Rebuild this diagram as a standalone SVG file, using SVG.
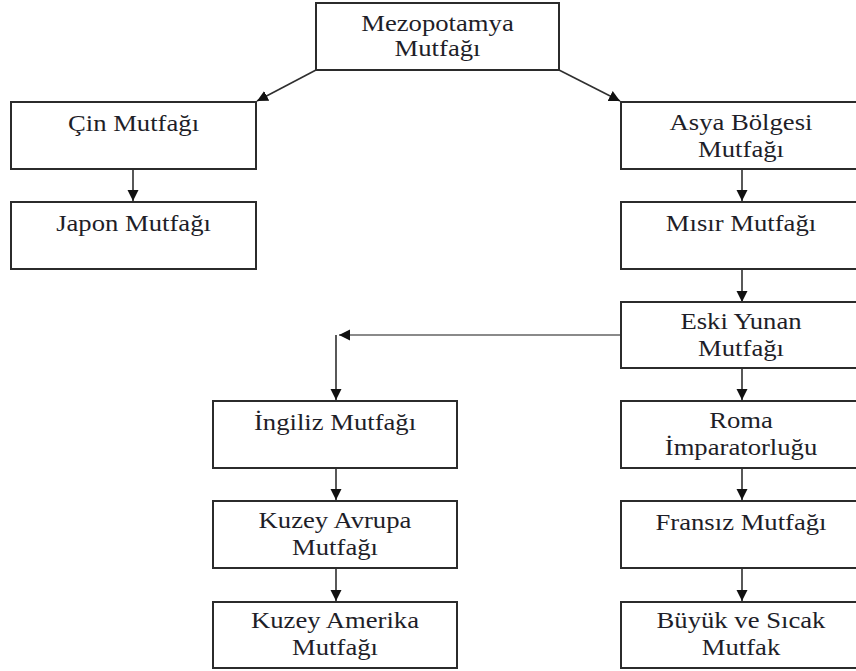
<svg xmlns="http://www.w3.org/2000/svg" width="856" height="671" viewBox="0 0 856 671">
<style>
.box{fill:#fff;stroke:#2b2b2b;stroke-width:2}
.lbl{font-family:"Liberation Serif","Times New Roman",serif;font-size:23px;fill:#1e1e28;text-anchor:middle}
.c{fill:none;stroke:#2f2f2f;stroke-width:1.6}
.cl{fill:none;stroke:#8a8a8a;stroke-width:2}
</style>
<defs>
<marker id="ah" markerUnits="userSpaceOnUse" markerWidth="12" markerHeight="12" refX="11" refY="6" orient="auto">
<path d="M0,0.5 L11,6 L0,11.5 z" fill="#111"/>
</marker>
</defs>
<rect width="856" height="671" fill="#fff"/>
<g id="connectors">
<path class="c" d="M316,70 L257,101" marker-end="url(#ah)"/>
<path class="c" d="M559,70 L620,101" marker-end="url(#ah)"/>
<path class="c" d="M133,169 V201" marker-end="url(#ah)"/>
<path class="c" d="M742,169 V201" marker-end="url(#ah)"/>
<path class="c" d="M742,269 V302" marker-end="url(#ah)"/>
<path class="cl" d="M621,335 H339" marker-end="url(#ah)"/>
<path class="c" d="M336,335 V400" marker-end="url(#ah)"/>
<path class="c" d="M742,368 V400" marker-end="url(#ah)"/>
<path class="c" d="M742,468 V500" marker-end="url(#ah)"/>
<path class="c" d="M742,568 V601" marker-end="url(#ah)"/>
<path class="c" d="M336,468 V500" marker-end="url(#ah)"/>
<path class="c" d="M336,568 V601" marker-end="url(#ah)"/>
</g>
<g id="mezopotamya">
<rect class="box" x="316" y="3" width="243" height="67"/>
<text class="lbl" transform="translate(437.5 31) scale(1.16 1)"><tspan x="0">Mezopotamya</tspan><tspan x="0" dy="25">Mutfağı</tspan></text>
</g>
<g id="cin">
<rect class="box" x="11" y="102" width="245" height="67"/>
<text class="lbl" transform="translate(133.5 131) scale(1.16 1)">Çin Mutfağı</text>
</g>
<g id="japon">
<rect class="box" x="11" y="202" width="245" height="67"/>
<text class="lbl" transform="translate(133.5 231) scale(1.16 1)">Japon Mutfağı</text>
</g>
<g id="asya">
<rect class="box" x="621" y="102" width="245" height="67"/>
<text class="lbl" transform="translate(741 130) scale(1.16 1)"><tspan x="0">Asya Bölgesi</tspan><tspan x="0" dy="27">Mutfağı</tspan></text>
</g>
<g id="misir">
<rect class="box" x="621" y="202" width="245" height="67"/>
<text class="lbl" transform="translate(741 231) scale(1.16 1)">Mısır Mutfağı</text>
</g>
<g id="eskiyunan">
<rect class="box" x="621" y="302" width="245" height="66"/>
<text class="lbl" transform="translate(741 329) scale(1.16 1)"><tspan x="0">Eski Yunan</tspan><tspan x="0" dy="27">Mutfağı</tspan></text>
</g>
<g id="roma">
<rect class="box" x="621" y="401" width="245" height="67"/>
<text class="lbl" transform="translate(741 428) scale(1.16 1)"><tspan x="0">Roma</tspan><tspan x="0" dy="27">İmparatorluğu</tspan></text>
</g>
<g id="fransiz">
<rect class="box" x="621" y="501" width="245" height="67"/>
<text class="lbl" transform="translate(741 530) scale(1.16 1)">Fransız Mutfağı</text>
</g>
<g id="buyuk">
<rect class="box" x="621" y="602" width="245" height="66"/>
<text class="lbl" transform="translate(741 628) scale(1.16 1)"><tspan x="0">Büyük ve Sıcak</tspan><tspan x="0" dy="27">Mutfak</tspan></text>
</g>
<g id="ingiliz">
<rect class="box" x="213" y="401" width="244" height="67"/>
<text class="lbl" transform="translate(335 430) scale(1.16 1)">İngiliz Mutfağı</text>
</g>
<g id="kuzeyavrupa">
<rect class="box" x="213" y="501" width="244" height="67"/>
<text class="lbl" transform="translate(335 528) scale(1.16 1)"><tspan x="0">Kuzey Avrupa</tspan><tspan x="0" dy="27">Mutfağı</tspan></text>
</g>
<g id="kuzeyamerika">
<rect class="box" x="213" y="602" width="244" height="66"/>
<text class="lbl" transform="translate(335 628) scale(1.16 1)"><tspan x="0">Kuzey Amerika</tspan><tspan x="0" dy="27">Mutfağı</tspan></text>
</g>
</svg>
